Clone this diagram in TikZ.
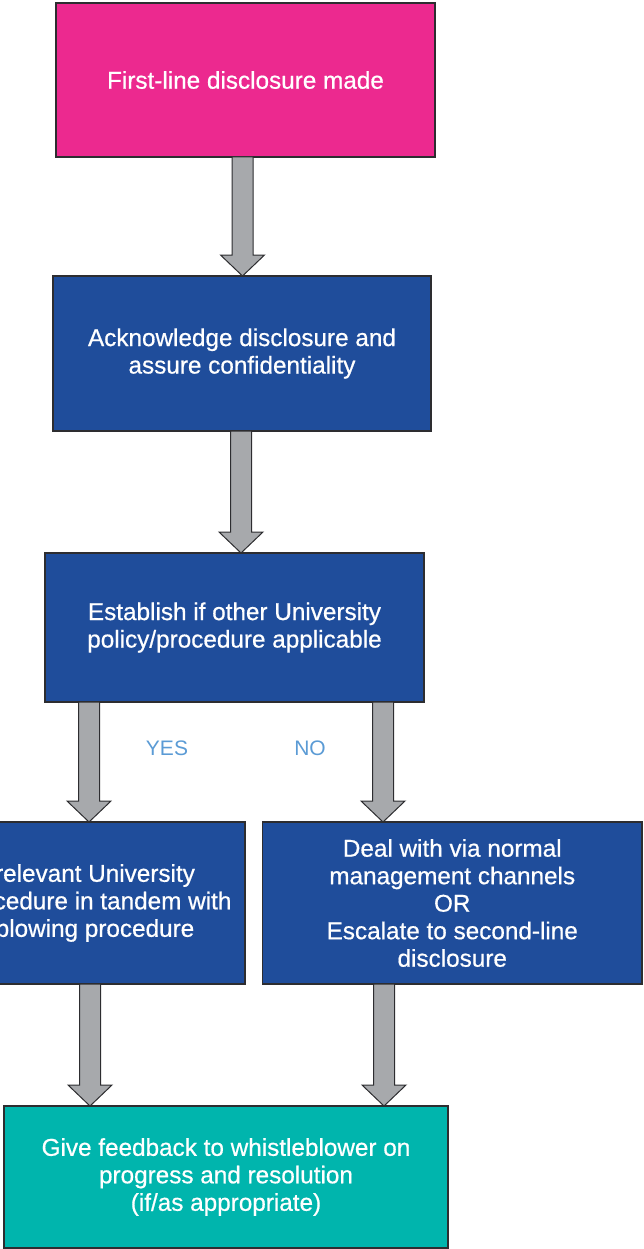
\documentclass[tikz,border=0pt]{standalone}
\usepackage{fontspec}
\setmainfont{Liberation Sans}
\newfontfamily\boxfont{Liberation Sans}[FakeBold=0.6]
\usetikzlibrary{calc}

\definecolor{pinkbox}{RGB}{236,41,143}
\definecolor{bluebox}{RGB}{31,77,155}
\definecolor{tealbox}{RGB}{0,181,173}
\definecolor{arrowgrey}{RGB}{167,169,172}
\definecolor{edgegrey}{RGB}{45,45,48}
\definecolor{labelblue}{RGB}{91,155,213}

% block arrow straight down at horizontal position #1, from node anchor #2 to node anchor #3
\newcommand\flowarrow[3]{%
  \draw[flowarrowstyle] let \p1=(#2), \p2=(#3) in
    (#1pt-10.5pt,\y1) -- (#1pt+10.5pt,\y1) -- (#1pt+10.5pt,\y2+21pt)
    -- (#1pt+22pt,\y2+21pt) -- (#1pt,\y2) -- (#1pt-22pt,\y2+21pt)
    -- (#1pt-10.5pt,\y2+21pt) -- cycle;}

\begin{document}
\begin{tikzpicture}[x=1pt,y=-1pt,
  box/.style={draw=edgegrey, line width=1.1pt, text=white, align=center,
    font=\boxfont\fontsize{24.3}{27.5}\selectfont, inner sep=0pt, outer sep=0pt},
  flowarrowstyle/.style={draw=edgegrey, line width=1pt, fill=arrowgrey, line join=miter},
  lbl/.style={text=labelblue, font=\fontsize{21}{24}\selectfont, inner sep=0pt}]
\useasboundingbox (0,0) rectangle (643,1249);
\clip (0,0) rectangle (643,1249);

% process boxes
\node[box, fill=pinkbox, minimum width=379pt, minimum height=154pt] (b1) at (245.5,80)
  {First-line disclosure made};
\node[box, fill=bluebox, minimum width=378pt, minimum height=155pt] (b2) at (242,353.5)
  {Acknowledge disclosure and\\assure confidentiality};
\node[box, fill=bluebox, minimum width=379pt, minimum height=149pt] (b3) at (234.5,627.5)
  {Establish if other University\\policy/procedure applicable};
\node[box, fill=bluebox, minimum width=300pt, minimum height=162pt] (b4) at (95,903)
  {relevant University\\procedure in tandem with\\blowing procedure};
\node[box, fill=bluebox, minimum width=379.5pt, minimum height=162pt] (b5) at (452.25,903)
  {Deal with via normal\\management channels\\OR\\Escalate to second-line\\disclosure};
\node[box, fill=tealbox, minimum width=444pt, minimum height=142pt] (b6) at (226,1177)
  {Give feedback to whistleblower on\\progress and resolution\\(if/as appropriate)};

% branch labels
\node[lbl] (yes) at (167,748) {YES};
\node[lbl] (no) at (310,748) {NO};

% connectors
\flowarrow{242.5}{b1.south}{b2.north}
\flowarrow{241}{b2.south}{b3.north}
\flowarrow{89}{b3.south}{b4.north}
\flowarrow{383}{b3.south}{b5.north}
\flowarrow{90}{b4.south}{b6.north}
\flowarrow{384}{b5.south}{b6.north}
\end{tikzpicture}
\end{document}
